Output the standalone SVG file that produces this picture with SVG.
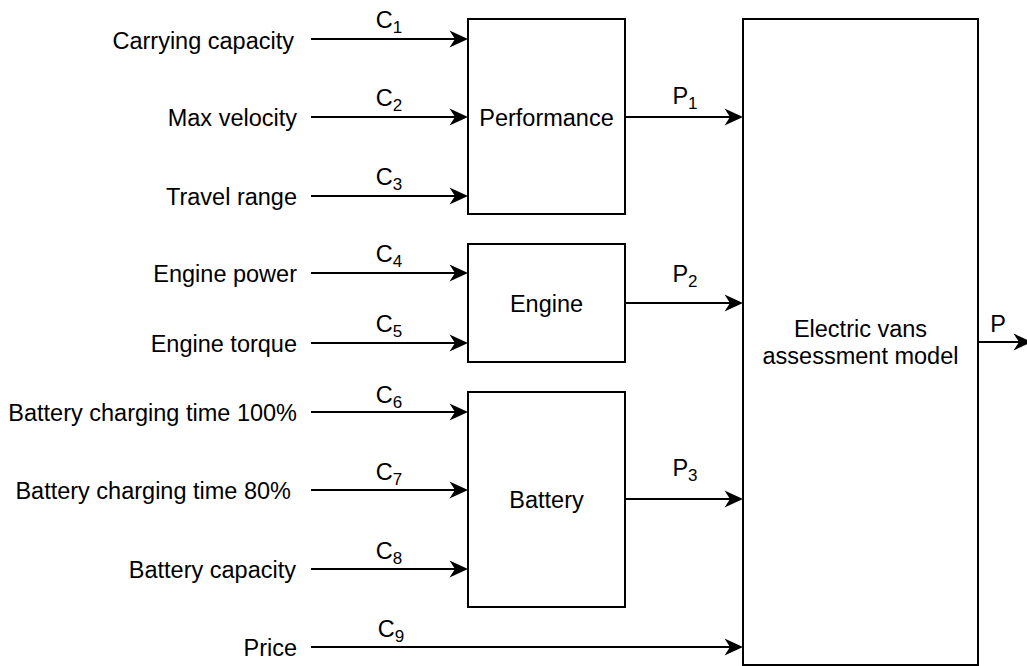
<svg xmlns="http://www.w3.org/2000/svg" width="1027" height="666" viewBox="0 0 1027 666">
<style>
text{font-family:"Liberation Sans",Arial,Helvetica,sans-serif;font-size:23.5px;fill:#000}
.lbl{text-anchor:end}
.mid{text-anchor:middle}
.sub{font-size:17px}
.box{fill:#fff;stroke:#000;stroke-width:2}
.edge{fill:none;stroke:#000;stroke-width:2;marker-end:url(#arr)}
</style>
<defs>
<marker id="arr" markerUnits="userSpaceOnUse" viewBox="-20 -10 22 20" markerWidth="22" markerHeight="20" refX="-4" refY="0" orient="auto">
<path d="M0,0 L-18.5,-8.5 L-13,0 L-18.5,8.5 Z" fill="#000"/>
</marker>
</defs>
<rect width="1027" height="666" fill="#fff"/>
<g id="connectors">
<path class="edge" d="M311,39 H464"/>
<path class="edge" d="M311,117 H464"/>
<path class="edge" d="M311,196 H464"/>
<path class="edge" d="M311,273 H464"/>
<path class="edge" d="M311,343 H464"/>
<path class="edge" d="M311,412 H464"/>
<path class="edge" d="M311,490 H464"/>
<path class="edge" d="M311,569 H464"/>
<path class="edge" d="M311,647 H739"/>
<path class="edge" d="M625,117 H739"/>
<path class="edge" d="M625,303 H739"/>
<path class="edge" d="M625,499 H739"/>
<path class="edge" d="M978,342 H1028"/>
<text class="mid" x="389" y="27.5">C<tspan class="sub" dy="5">1</tspan></text>
<text class="mid" x="389" y="106">C<tspan class="sub" dy="5">2</tspan></text>
<text class="mid" x="389" y="185">C<tspan class="sub" dy="5">3</tspan></text>
<text class="mid" x="389" y="262">C<tspan class="sub" dy="5">4</tspan></text>
<text class="mid" x="389" y="332">C<tspan class="sub" dy="5">5</tspan></text>
<text class="mid" x="389" y="403">C<tspan class="sub" dy="5">6</tspan></text>
<text class="mid" x="389" y="480">C<tspan class="sub" dy="5">7</tspan></text>
<text class="mid" x="389" y="558.5">C<tspan class="sub" dy="5">8</tspan></text>
<text class="mid" x="391" y="637">C<tspan class="sub" dy="5">9</tspan></text>
<text class="mid" x="685" y="104">P<tspan class="sub" dy="5">1</tspan></text>
<text class="mid" x="685" y="282">P<tspan class="sub" dy="5">2</tspan></text>
<text class="mid" x="685" y="476">P<tspan class="sub" dy="5">3</tspan></text>
<text class="mid" x="998" y="332">P</text>
</g>
<g id="input-labels">
<text class="lbl" x="294" y="49">Carrying capacity</text>
<text class="lbl" x="297" y="126">Max velocity</text>
<text class="lbl" x="297" y="204.5">Travel range</text>
<text class="lbl" x="297" y="281.5">Engine power</text>
<text class="lbl" x="297" y="351.5">Engine torque</text>
<text class="lbl" x="297" y="420.5">Battery charging time 100%</text>
<text class="lbl" x="291" y="498.5">Battery charging time 80%</text>
<text class="lbl" x="296" y="577.5">Battery capacity</text>
<text class="lbl" x="297" y="655.5">Price</text>
</g>
<g id="performance">
<rect class="box" x="468" y="19" width="157" height="195"/>
<text class="mid" x="546.5" y="125.5">Performance</text>
</g>
<g id="engine">
<rect class="box" x="468" y="244" width="157" height="118"/>
<text class="mid" x="546.5" y="311.5">Engine</text>
</g>
<g id="battery">
<rect class="box" x="468" y="392" width="157" height="215"/>
<text class="mid" x="546.5" y="508">Battery</text>
</g>
<g id="assessment-model">
<rect class="box" x="743" y="19" width="235" height="646"/>
<text class="mid" x="860.5" y="336.5">Electric vans</text>
<text class="mid" x="860.5" y="364">assessment model</text>
</g>
</svg>
